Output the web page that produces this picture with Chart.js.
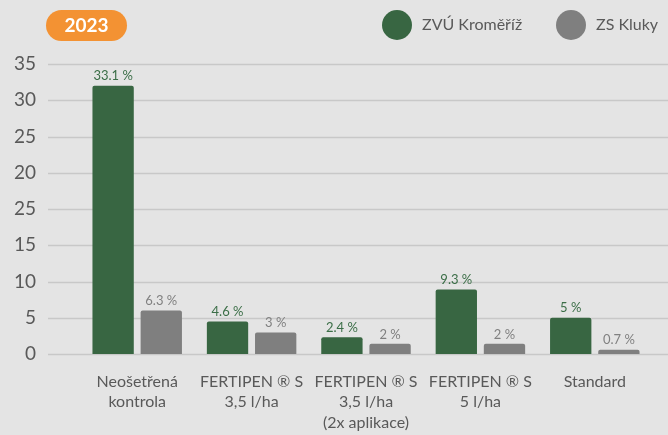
<!DOCTYPE html>
<html>
<head>
<meta charset="utf-8">
<script src="https://cdn.jsdelivr.net/npm/chart.js@4"></script>
<style>
  html, body { margin: 0; padding: 0; background: #e4e4e4; }
  .canvas-container { width: 668px; height: 435px; position: relative; }
</style>
</head>
<body>
<div class="canvas-container"><canvas id="chart"></canvas></div>
<script>
const categories = [
  ['Neošetřená', 'kontrola'],
  ['FERTIPEN ® S', '3,5 l/ha'],
  ['FERTIPEN ® S', '3,5 l/ha', '(2x aplikace)'],
  ['FERTIPEN ® S', '5 l/ha'],
  'Standard',
];
const seriesNames = ['ZVÚ Kroměříž', 'ZS Kluky'];
// bar heights as drawn against the axis below
const kromerizValues = [37.0, 4.5, 2.3, 8.9, 5.0];
const klukyValues = [6.0, 2.95, 1.4, 1.4, 0.6];
// printed value labels
const kromerizLabels = ['33.1 %', '4.6 %', '2.4 %', '9.3 %', '5 %'];
const klukyLabels = ['6.3 %', '3 %', '2 %', '2 %', '0.7 %'];
// tick labels bottom to top, as printed
const yTickLabels = ['0', '5', '10', '15', '25', '20', '25', '30', '35'];
const yearBadge = '2023';

const GREEN = '#386642';
const GRAY = '#7f7f7f';
const TEXT = '#595959';
const FONT = 'Lato, "Open Sans", sans-serif';

const valueLabels = [kromerizLabels, klukyLabels];
const labelColors = ['#3b6e47', '#808080'];

const fullGrid = {
  id: 'fullGrid',
  beforeDatasetsDraw(chart) {
    const { ctx } = chart;
    const y = chart.scales.y;
    ctx.save();
    ctx.strokeStyle = '#c8c8c8';
    ctx.lineWidth = 1.5;
    y.ticks.forEach((t) => {
      const py = Math.round(y.getPixelForValue(t.value)) + 0.5;
      ctx.beginPath();
      ctx.moveTo(48, py);
      ctx.lineTo(chart.width, py);
      ctx.stroke();
    });
    ctx.restore();
  },
};

const barLabels = {
  id: 'barLabels',
  afterDatasetsDraw(chart) {
    const { ctx } = chart;
    ctx.save();
    ctx.font = '13px ' + FONT;
    ctx.textAlign = 'center';
    ctx.textBaseline = 'bottom';
    chart.data.datasets.forEach((ds, i) => {
      ctx.fillStyle = labelColors[i];
      chart.getDatasetMeta(i).data.forEach((bar, j) => {
        ctx.fillText(valueLabels[i][j], bar.x, bar.y - 3);
      });
    });
    ctx.restore();
  },
};

const header = {
  id: 'header',
  afterDraw(chart) {
    const { ctx } = chart;
    ctx.save();
    // year badge
    ctx.fillStyle = '#f39233';
    ctx.beginPath();
    ctx.roundRect(46, 10, 81, 31, 15.5);
    ctx.fill();
    ctx.fillStyle = '#ffffff';
    ctx.font = 'bold 19px ' + FONT;
    ctx.textAlign = 'center';
    ctx.textBaseline = 'middle';
    ctx.fillText(yearBadge, 86.5, 26);
    // legend
    const items = [[397, 422], [571, 596]];
    ctx.font = '16px ' + FONT;
    ctx.textAlign = 'left';
    chart.data.datasets.forEach((ds, i) => {
      ctx.fillStyle = ds.backgroundColor;
      ctx.beginPath();
      ctx.arc(items[i][0], 25, 15, 0, Math.PI * 2);
      ctx.fill();
      ctx.fillStyle = TEXT;
      ctx.fillText(ds.label, items[i][1], 25);
    });
    ctx.restore();
  },
};

new Chart(document.getElementById('chart'), {
  type: 'bar',
  data: {
    labels: categories,
    datasets: [
      { label: seriesNames[0], data: kromerizValues, backgroundColor: GREEN },
      { label: seriesNames[1], data: klukyValues, backgroundColor: GRAY },
    ],
  },
  options: {
    responsive: true,
    maintainAspectRatio: false,
    animation: false,
    layout: { padding: { top: 64, right: 16, bottom: 0, left: 0 } },
    datasets: {
      bar: { categoryPercentage: 0.842, barPercentage: 0.858, borderRadius: 2 },
    },
    plugins: {
      legend: { display: false },
      tooltip: { enabled: false },
    },
    scales: {
      x: {
        grid: { display: false, drawTicks: false },
        border: { display: false },
        afterFit(scale) { scale.height = 81; },
        ticks: {
          color: TEXT,
          font: { family: FONT, size: 16, lineHeight: 1.3 },
          padding: 17,
          maxRotation: 0,
          autoSkip: false,
        },
      },
      y: {
        min: 0,
        max: 40,
        grid: { display: false, drawTicks: false },
        border: { display: false },
        afterFit(scale) { scale.width = 80; },
        ticks: {
          stepSize: 5,
          color: TEXT,
          font: { family: FONT, size: 19 },
          padding: 44,
          callback: (v, i) => yTickLabels[i],
        },
      },
    },
  },
  plugins: [fullGrid, barLabels, header],
});
</script>
</body>
</html>
